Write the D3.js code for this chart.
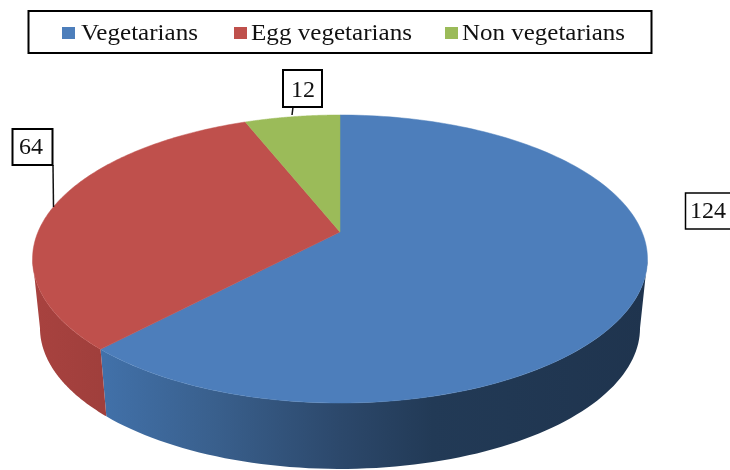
<!DOCTYPE html>
<html>
<head>
<meta charset="utf-8">
<script src="https://cdn.jsdelivr.net/npm/d3@7"></script>
<style>
html,body{margin:0;padding:0;background:#fff;overflow:hidden}
svg{display:block;filter:blur(0.45px)}
text{font-family:"Liberation Serif","Times New Roman",serif;fill:#111}
</style>
</head>
<body>
<svg id="c" width="730" height="470"></svg>
<script>
const categories = ["Vegetarians", "Egg vegetarians", "Non vegetarians"];
const values = [124, 64, 12];
const topColors = ["#4d7ebb", "#bf504c", "#9bbb59"];

const svg = d3.select("#c");
const defs = svg.append("defs");

// perspective projection of the unit disc
const cx = 340, c = -0.1875;
const topPlane = {k: 302, a: 95.44, b: 232};
const botPlane = {k: 294.7, a: 79.5, b: 301.5};
function project(p, alpha) {
  const u = Math.sin(alpha), v = -Math.cos(alpha), w = 1 + c * v;
  return [cx + p.k * u / w, (p.a * v + p.b) / w];
}
const rim = (p, a0, a1, n = 80) =>
  d3.range(n + 1).map(i => project(p, a0 + (a1 - a0) * i / n));
const line = d3.line();

const arcs = d3.pie().sort(null).value(d => d)(values);
const rightTan = Math.acos(c), leftTan = 2 * Math.PI - Math.acos(c);

// side gradients
function grad(id, stops) {
  const g = defs.append("linearGradient").attr("id", id)
    .attr("gradientUnits", "userSpaceOnUse")
    .attr("x1", 33).attr("x2", 648).attr("y1", 0).attr("y2", 0);
  stops.forEach(s => g.append("stop").attr("offset", s[0]).attr("stop-color", s[1]));
}
grad("sideBlue", [[0.1, "#4272ab"], [0.3, "#395f8c"], [0.5, "#2c486b"], [0.65, "#223a56"], [1, "#1f344e"]]);
grad("sideRed", [[0, "#a8423f"], [0.11, "#a03f3c"]]);

// front walls
const walls = [
  {a0: rightTan, a1: arcs[0].endAngle, fill: "url(#sideBlue)"},
  {a0: arcs[0].endAngle, a1: leftTan, fill: "url(#sideRed)"}
];
svg.selectAll("path.wall").data(walls).join("path")
  .attr("class", "wall")
  .attr("fill", d => d.fill)
  .attr("d", d => line(rim(topPlane, d.a0, d.a1).concat(rim(botPlane, d.a0, d.a1).reverse())) + "Z");

// top face
const apex = [cx, topPlane.b];
svg.selectAll("path.slice").data(arcs).join("path")
  .attr("class", "slice")
  .attr("fill", (d, i) => topColors[i])
  .attr("stroke", (d, i) => topColors[i])
  .attr("stroke-width", 0.5)
  .attr("d", d => line([apex].concat(rim(topPlane, d.startAngle, d.endAngle, 160))) + "Z");

// legend
svg.append("rect").attr("x", 28.5).attr("y", 11).attr("width", 623).attr("height", 42)
  .attr("fill", "none").attr("stroke", "#000").attr("stroke-width", 2);
const legendSwatchX = [62, 234, 445];
const legendTextX = [81, 251, 462];
const legendTextW = [117, 161, 163];
categories.forEach((name, i) => {
  svg.append("rect").attr("x", legendSwatchX[i]).attr("y", 27).attr("width", 13).attr("height", 12)
    .attr("fill", topColors[i]);
  svg.append("text").attr("x", legendTextX[i]).attr("y", 40)
    .attr("font-size", 23)
    .attr("textLength", legendTextW[i]).attr("lengthAdjust", "spacingAndGlyphs")
    .text(name);
});

// data labels
const labelBoxes = [
  {x: 685.5, y: 193, w: 60, h: 36, tx: 690, ty: 218, sw: 1.5},
  {x: 12.5, y: 129, w: 40, h: 36, tx: 19, ty: 154, sw: 2},
  {x: 283, y: 70, w: 39, h: 37, tx: 291, ty: 97, sw: 2}
];
const leaders = [null, [[53, 165], [53.5, 207]], [[293, 107], [292, 115]]];
values.forEach((v, i) => {
  const b = labelBoxes[i];
  if (leaders[i]) svg.append("path").attr("d", line(leaders[i]))
    .attr("fill", "none").attr("stroke", "#111").attr("stroke-width", 1.5);
  svg.append("rect").attr("x", b.x).attr("y", b.y).attr("width", b.w).attr("height", b.h)
    .attr("fill", "#fff").attr("stroke", "#000").attr("stroke-width", b.sw);
  svg.append("text").attr("x", b.tx).attr("y", b.ty).attr("font-size", 24).text(v);
});
</script>
</body>
</html>
